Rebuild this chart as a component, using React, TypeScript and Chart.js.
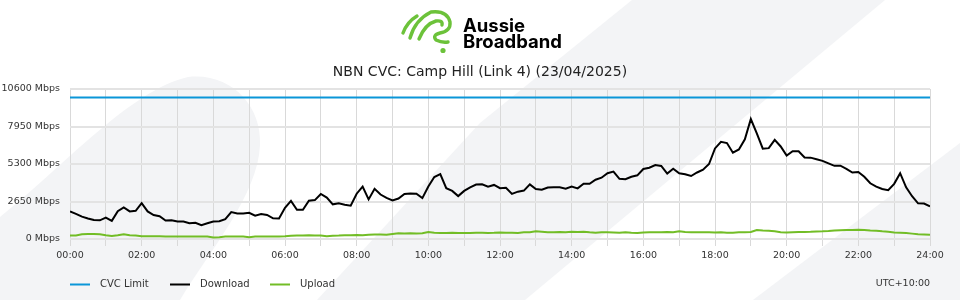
import React, { useEffect, useRef } from 'react';
import { Chart, registerables } from 'chart.js';

Chart.register(...registerables);

// ---------- data ----------
const TITLE = 'NBN CVC: Camp Hill (Link 4) (23/04/2025)';
const BRAND_LINES = ['Aussie', 'Broadband'];
const TIMEZONE_LABEL = 'UTC+10:00';
const SERIES_NAMES = ['CVC Limit', 'Download', 'Upload'];
const SERIES_COLORS = ['#0a96d8', '#000000', '#72bd26'];
const CVC_LIMIT = 10000;
const Y_MAX = 10600;
const Y_STEP = 2650;
const Y_UNIT = 'Mbps';
const SAMPLE_MINUTES = 10;
const DAY_MINUTES = 1440;
const HOUR_LABELS = ['00:00', '02:00', '04:00', '06:00', '08:00', '10:00', '12:00', '14:00', '16:00', '18:00', '20:00', '22:00', '24:00'];

// Download (Mbps), one value every 10 minutes from 00:00 to 24:00
const DOWNLOAD = [
  1946, 1780, 1580, 1450, 1340, 1320, 1510, 1280, 1960, 2225,
  1950, 1990, 2530, 1950, 1690, 1610, 1300, 1320, 1240, 1240,
  1120, 1150, 980, 1110, 1230, 1260, 1400, 1900, 1800, 1800,
  1850, 1650, 1770, 1700, 1460, 1450, 2200, 2690, 2070, 2070,
  2700, 2750, 3180, 2930, 2450, 2530, 2420, 2350, 3200, 3700,
  2800, 3550, 3140, 2900, 2720, 2860, 3180, 3220, 3200, 2890,
  3710, 4380, 4580, 3590, 3400, 3030, 3400, 3650, 3850, 3870,
  3690, 3820, 3590, 3620, 3190, 3345, 3420, 3860, 3530, 3480,
  3640, 3660, 3650, 3560, 3700, 3580, 3900, 3900, 4190, 4330,
  4650, 4760, 4250, 4220, 4400, 4500, 4950, 5040, 5230, 5160,
  4620, 4960, 4640, 4580, 4450, 4700, 4900, 5300, 6400, 6870,
  6780, 6100, 6330, 7040, 8480, 7470, 6380, 6420, 7000, 6540,
  5900, 6200, 6200, 5760, 5750, 5640, 5520, 5340, 5170, 5180,
  4960, 4700, 4740, 4400, 3940, 3700, 3530, 3450, 3900, 4650,
  3650, 3020, 2520, 2510, 2300,
];

// Upload (Mbps), same sampling
const UPLOAD = [
  250, 250, 330, 350, 350, 330,
  260, 220, 270, 340, 260, 250,
  200, 190, 190, 190, 185, 185,
  185, 180, 180, 180, 175, 175,
  100, 130, 170, 175, 175, 170,
  120, 170, 175, 175, 180, 180,
  200, 230, 250, 240, 270, 250,
  250, 200, 230, 240, 260, 270,
  280, 270, 300, 310, 320, 300,
  350, 400, 380, 400, 390, 400,
  490, 450, 430, 420, 440, 430,
  420, 430, 440, 450, 430, 440,
  460, 440, 450, 430, 470, 480,
  540, 520, 480, 470, 500, 480,
  520, 500, 510, 470, 450, 480,
  470, 460, 450, 480, 450, 430,
  460, 470, 480, 470, 500, 480,
  540, 500, 480, 470, 480, 470,
  460, 470, 450, 450, 470, 480,
  500, 640, 600, 580, 540, 480,
  460, 480, 490, 500, 510, 530,
  540, 560, 600, 620, 630, 640,
  650, 640, 600, 580, 540, 520,
  460, 440, 420, 380, 340, 320,
  300,
];

// ---------- styling ----------
const FONT = "'DejaVu Sans', sans-serif";
const TEXT_COLOR = '#333333';
const BG_SHAPE = '#f3f4f6';
const LOGO_GREEN = '#6cc23a';

const decorPlugin = {
  id: 'decor',
  beforeDraw(chart: any) {
    const { ctx, width, height } = chart;
    ctx.save();
    ctx.fillStyle = '#ffffff';
    ctx.fillRect(0, 0, width, height);
    ctx.fillStyle = BG_SHAPE;
    // left leaf shape
    ctx.beginPath();
    ctx.moveTo(0, 217);
    ctx.bezierCurveTo(60, 170, 130, 90, 188, 77);
    ctx.bezierCurveTo(230, 72, 262, 105, 260, 145);
    ctx.bezierCurveTo(258, 195, 210, 250, 180, 300);
    ctx.lineTo(0, 300);
    ctx.closePath();
    ctx.fill();
    // middle diagonal band
    ctx.beginPath();
    ctx.moveTo(632, 0);
    ctx.lineTo(480, 123);
    ctx.lineTo(317, 300);
    ctx.lineTo(525, 300);
    ctx.lineTo(885, 0);
    ctx.closePath();
    ctx.fill();
    // bottom right band
    ctx.beginPath();
    ctx.moveTo(960, 143);
    ctx.lineTo(753, 300);
    ctx.lineTo(960, 300);
    ctx.closePath();
    ctx.fill();

    // logo icon
    ctx.strokeStyle = LOGO_GREEN;
    ctx.lineWidth = 3.4;
    ctx.lineCap = 'round';
    ctx.lineJoin = 'round';
    ctx.beginPath();
    ctx.moveTo(403, 33);
    ctx.quadraticCurveTo(407, 22, 417, 16);
    ctx.stroke();
    ctx.beginPath();
    ctx.moveTo(410, 38);
    ctx.quadraticCurveTo(415, 20, 431, 12);
    ctx.quadraticCurveTo(447, 10, 450, 22);
    ctx.quadraticCurveTo(451, 31, 440, 33);
    ctx.quadraticCurveTo(432, 35, 436, 40);
    ctx.quadraticCurveTo(442, 43, 448, 42);
    ctx.stroke();
    ctx.beginPath();
    ctx.moveTo(419, 39);
    ctx.quadraticCurveTo(425, 24, 436, 21);
    ctx.quadraticCurveTo(443, 20, 442, 25);
    ctx.stroke();
    ctx.fillStyle = LOGO_GREEN;
    ctx.beginPath();
    ctx.arc(443, 50.5, 2.6, 0, Math.PI * 2);
    ctx.fill();

    // brand text
    ctx.fillStyle = '#000000';
    ctx.font = "700 18.5px Inter, 'DejaVu Sans', sans-serif";
    ctx.textAlign = 'left';
    ctx.textBaseline = 'alphabetic';
    ctx.fillText(BRAND_LINES[0], 463, 32);
    ctx.fillText(BRAND_LINES[1], 463, 47.5);

    // title
    ctx.fillStyle = '#222222';
    ctx.font = `14px ${FONT}`;
    ctx.textAlign = 'center';
    ctx.fillText(TITLE, 480, 75.5);
    ctx.restore();
  },
  afterDraw(chart: any) {
    const { ctx, chartArea } = chart;
    ctx.save();
    const y = 284;
    ctx.font = `10px ${FONT}`;
    ctx.textBaseline = 'middle';
    SERIES_NAMES.forEach((name, i) => {
      const x0 = chartArea.left + i * 100;
      ctx.strokeStyle = SERIES_COLORS[i];
      ctx.lineWidth = 2;
      ctx.beginPath();
      ctx.moveTo(x0, y + 0.5);
      ctx.lineTo(x0 + 20, y + 0.5);
      ctx.stroke();
      ctx.fillStyle = TEXT_COLOR;
      ctx.textAlign = 'left';
      ctx.fillText(name, x0 + 30, y);
    });
    ctx.font = `9.5px ${FONT}`;
    ctx.textAlign = 'right';
    ctx.fillStyle = TEXT_COLOR;
    ctx.fillText(TIMEZONE_LABEL, chartArea.right, y);
    ctx.restore();
  },
};

export default function App() {
  const ref = useRef<HTMLCanvasElement | null>(null);

  useEffect(() => {
    if (!ref.current) return;
    Chart.defaults.font.family = FONT;
    Chart.defaults.font.size = 10;
    Chart.defaults.color = TEXT_COLOR;

    const toPoints = (arr: number[]) => arr.map((v, i) => ({ x: i * SAMPLE_MINUTES, y: v }));

    const chart = new Chart(ref.current, {
      type: 'line',
      data: {
        datasets: [
          {
            label: SERIES_NAMES[0],
            data: [
              { x: 0, y: CVC_LIMIT },
              { x: DAY_MINUTES, y: CVC_LIMIT },
            ],
            borderColor: SERIES_COLORS[0],
            borderWidth: 2,
            pointRadius: 0,
            fill: false,
          },
          {
            label: SERIES_NAMES[1],
            data: toPoints(DOWNLOAD),
            borderColor: SERIES_COLORS[1],
            borderWidth: 2,
            pointRadius: 0,
            fill: false,
            tension: 0,
          },
          {
            label: SERIES_NAMES[2],
            data: toPoints(UPLOAD),
            borderColor: SERIES_COLORS[2],
            borderWidth: 2,
            pointRadius: 0,
            fill: false,
            tension: 0,
          },
        ],
      },
      options: {
        responsive: false,
        animation: false,
        layout: { padding: { left: 0, right: 30, top: 89, bottom: 0 } },
        plugins: {
          legend: { display: false },
          title: { display: false },
          tooltip: { enabled: false },
        },
        scales: {
          x: {
            type: 'linear',
            min: 0,
            max: DAY_MINUTES,
            afterFit: (s: any) => {
              s.height = 61;
            },
            ticks: {
              stepSize: 60,
              autoSkip: false,
              maxRotation: 0,
              padding: 4,
              color: TEXT_COLOR,
              font: { size: 9.5 },
              callback: (v: any) => (Number(v) % 120 === 0 ? HOUR_LABELS[Number(v) / 120] : ''),
            },
            grid: { color: '#d9d9d9', lineWidth: 1, tickLength: 7, drawTicks: true },
            border: { display: false },
          },
          y: {
            min: 0,
            max: Y_MAX,
            afterFit: (s: any) => {
              s.width = 70;
            },
            ticks: {
              stepSize: Y_STEP,
              padding: 10,
              color: TEXT_COLOR,
              font: { size: 9.5 },
              callback: (v: any) => `${v} ${Y_UNIT}`,
            },
            grid: { color: '#e3e3e3', lineWidth: 2, drawTicks: false },
            border: { display: false },
          },
        },
      },
      plugins: [decorPlugin],
    });
    return () => chart.destroy();
  }, []);

  return (
    <div style={{ position: 'fixed', left: 0, top: 0, width: 960, height: 300 }}>
      <canvas ref={ref} width={960} height={300} style={{ display: 'block', width: 960, height: 300 }} />
    </div>
  );
}
